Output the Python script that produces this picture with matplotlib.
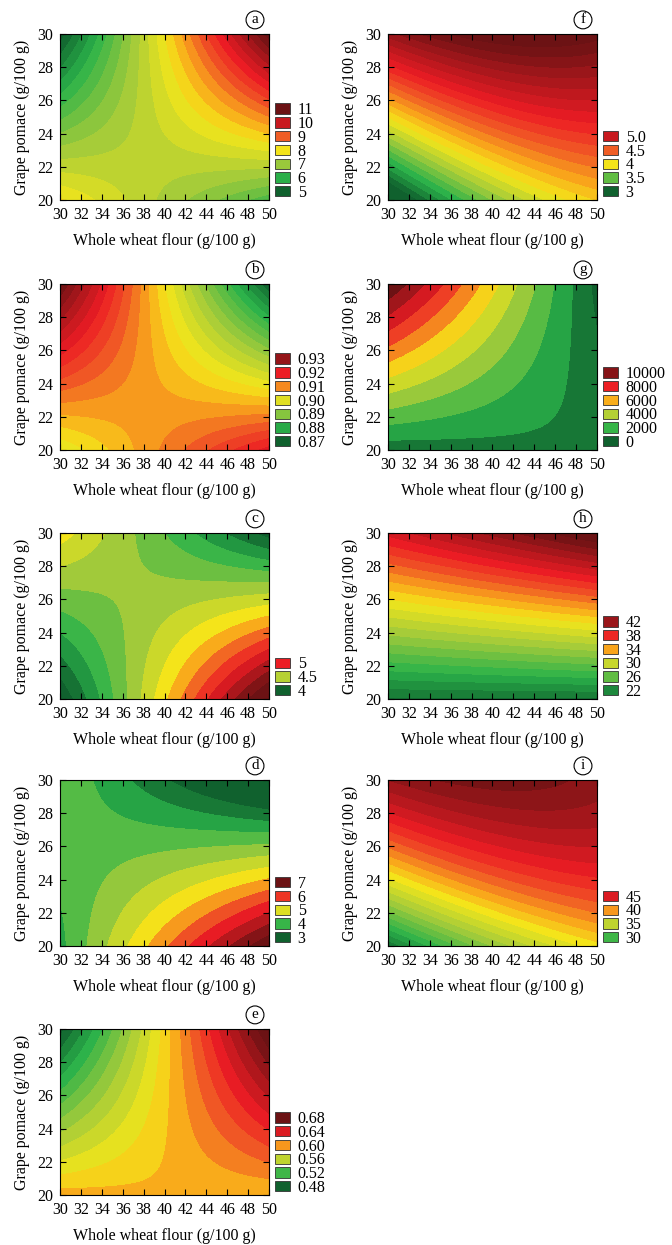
import matplotlib.pyplot as plt
import numpy as np
from matplotlib.colors import LinearSegmentedColormap, TwoSlopeNorm
from matplotlib.patches import Patch

plt.rcParams['font.family'] = ['Liberation Serif', 'DejaVu Serif']
plt.rcParams['font.size'] = 11.5

# fitted response surfaces, coded units (flour 30..50 -> -1..1, pomace 20..30 -> -1..1)
# order: b0, b1 (x), b2 (y), b12 (xy), b11 (x^2), b22 (y^2)
coef_a = [7.58, 1.15, 0.40, 2.00, 0.0, 0.0]
coef_b = [0.9065, -0.011, -0.004, -0.0215, 0.0, 0.0]
coef_c = [4.4875, 0.2125, -0.1875, -0.5625, 0.0, 0.0]
coef_d = [4.484, 0.393, -1.1135, -1.31, 0.0, 0.0]
coef_e = [0.5878, 0.0531, -0.0044, 0.0553, 0.0, 0.0]
coef_f = [4.625, 0.425, 1.0, -0.275, -0.2, -0.025]
coef_g = [2972, -2715, 2361, -2951, 0.0, 0.0]
coef_h = [31.6, 1.5, 10.75, 1.5, 0.0, 0.0]
coef_i = [43.25, 3.0, 8.25, -2.75, -1.25, -2.0]

# contour step of each panel
steps = [0.25, 0.0025, 0.1, 1 / 3, 0.01, 0.1, 1000, 1, 1]
# colour range of each panel (low, yellow, high)
vmins = [5, 0.87, 4.0, 3.3, 0.48, 3.0, 0, 20, 25]
vmids = [8, 0.9025, 4.65, 5.15, 0.58, 4.0, 5250, 32, 37.5]
vmaxs = [11, 0.935, 5.3, 7, 0.68, 5.5, 10500, 44, 50]

legend_a = ["11", "10", "9", "8", "7", "6", "5"]
legend_b = ["0.93", "0.92", "0.91", "0.90", "0.89", "0.88", "0.87"]
legend_c = ["5", "4.5", "4"]
legend_d = ["7", "6", "5", "4", "3"]
legend_e = ["0.68", "0.64", "0.60", "0.56", "0.52", "0.48"]
legend_f = ["5.0", "4.5", "4", "3.5", "3"]
legend_g = ["10000", "8000", "6000", "4000", "2000", "0"]
legend_h = ["42", "38", "34", "30", "26", "22"]
legend_i = ["45", "40", "35", "30"]

letters = ["a", "b", "c", "d", "e", "f", "g", "h", "i"]
coefs = [coef_a, coef_b, coef_c, coef_d, coef_e, coef_f, coef_g, coef_h, coef_i]
legends = [legend_a, legend_b, legend_c, legend_d, legend_e,
           legend_f, legend_g, legend_h, legend_i]

cmap = LinearSegmentedColormap.from_list("rsm", [
    (0.0, "#10612e"), (0.17, "#2bb24a"), (0.35, "#a4cb3a"), (0.5, "#f4e61a"),
    (0.58, "#f9a81b"), (0.67, "#f05a25"), (0.77, "#ec1c24"), (1.0, "#6c1214")])

x = np.linspace(30, 50, 241)
y = np.linspace(20, 30, 241)
xx, yy = np.meshgrid(x, y)
cx = (xx - 40) / 10
cy = (yy - 25) / 5

fig = plt.figure(figsize=(6.72, 12.45), dpi=100)
W, H = 672, 1245
col_x = [60, 388]
row_top = [34, 284, 533, 780, 1029]
aw, ah = 209, 166

for k, letter in enumerate(letters):
    col = 0 if k < 5 else 1
    row = k if k < 5 else k - 5
    left = col_x[col] / W
    bottom = 1 - (row_top[row] + ah) / H
    ax = fig.add_axes([left, bottom, aw / W, ah / H])

    b0, b1, b2, b12, b11, b22 = coefs[k]
    z = b0 + b1 * cx + b2 * cy + b12 * cx * cy + b11 * cx ** 2 + b22 * cy ** 2
    st = steps[k]
    lo = np.floor(z.min() / st - 1e-9) * st
    levels = np.arange(lo, z.max() + st, st)
    norm = TwoSlopeNorm(vmids[k], vmin=vmins[k], vmax=vmaxs[k])
    ax.contourf(x, y, z, levels=levels, cmap=cmap, norm=norm)

    ax.set_xlim(30, 50)
    ax.set_ylim(20, 30)
    ax.set_xticks(range(30, 51, 2))
    ax.set_yticks(range(20, 31, 2))
    ax.tick_params(direction='in', top=True, right=True, length=4, width=0.8,
                   labelsize=11.5, pad=5)
    for sp in ax.spines.values():
        sp.set_linewidth(0.8)
    ax.set_xlabel("Whole wheat flour (g/100 g)", labelpad=7)
    ax.set_ylabel("Grape pomace (g/100 g)", labelpad=5)

    labs = legends[k]
    handles = [Patch(facecolor=cmap(norm(float(l))), edgecolor='#333333', linewidth=0.6)
               for l in labs]
    ax.legend(handles, labs, loc='lower left', bbox_to_anchor=(1.03, -0.005),
              frameon=False, handlelength=0.95, handleheight=0.62,
              handletextpad=0.45, labelspacing=-0.14, borderpad=0,
              borderaxespad=0, fontsize=11.5)

    ax.text(0.933, 1.085, letter, transform=ax.transAxes, ha='center', va='center',
            fontsize=11, bbox=dict(boxstyle='circle,pad=0.16', fc='white',
                                   ec='black', lw=0.8))

fig.savefig("out.png", dpi=100)
